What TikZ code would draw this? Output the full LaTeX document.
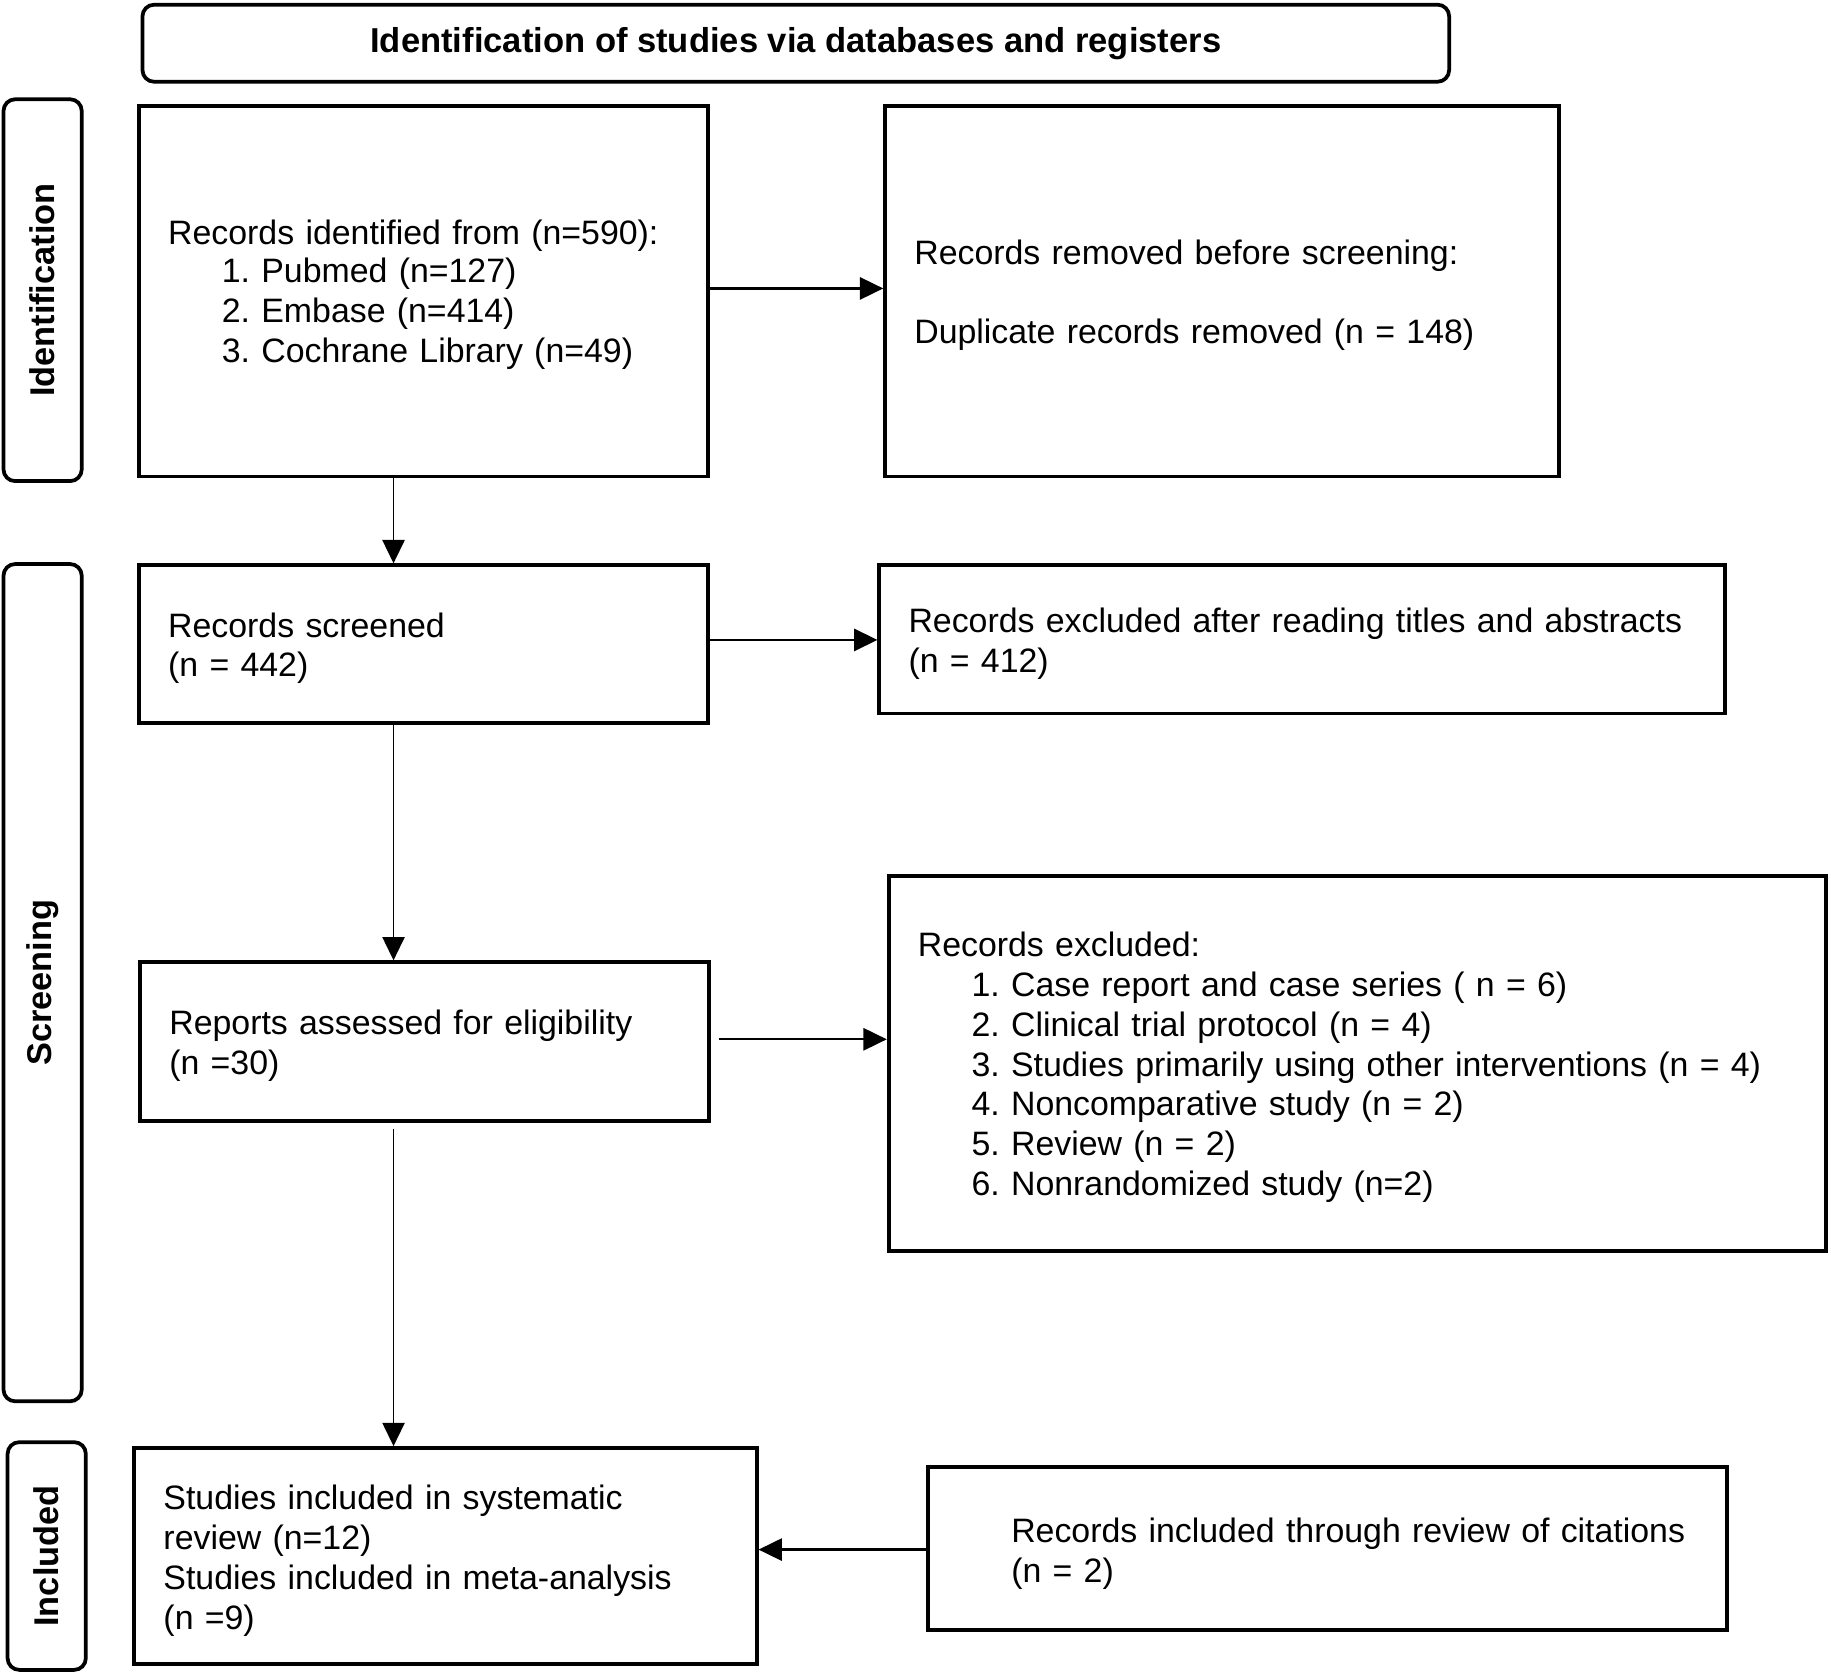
\documentclass[tikz,border=0pt]{standalone}
\usepackage{fontspec}
\setmainfont{Liberation Sans}
\frenchspacing
\usetikzlibrary{arrows.meta}
\begin{document}
\begin{tikzpicture}[x=0.5pt,y=-0.5pt,
  txt/.style={font=\fontsize{14.5pt}{17pt}\selectfont\frenchspacing},
  frame/.style={draw, line width=1.6pt, inner sep=0pt},
  btext/.style={txt, align=left, inner sep=0pt},
  side/.style={draw, line width=1.6pt, rounded corners=5pt, rotate=90, minimum height=33.5pt, inner sep=0pt, font=\fontsize{14.7pt}{17pt}\selectfont\bfseries},
  harrow/.style={line width=1pt, -{Triangle[length=10pt,width=9.5pt]}},
  varrow/.style={line width=0.8pt, -{Triangle[length=10pt,width=9.5pt]}}
]
\useasboundingbox (0,0) rectangle (1568,1436);
\node (title) [draw, line width=1.6pt, rounded corners=5pt, minimum width=559.5pt, minimum height=33pt, inner sep=0pt, font=\fontsize{14.8pt}{17pt}\selectfont\bfseries] at (681.5,37) {Identification of studies via databases and registers};

\node (sid) [side, minimum width=163.5pt] at (36.5,248.5) {Identification};
\node (sscr) [side, minimum width=358.5pt] at (36.5,841.5) {Screening};
\node (sinc) [side, minimum width=97.5pt] at (40,1332.5) {Included};

% frames
\node (a) [frame, minimum width=243.5pt, minimum height=158.5pt] at (362.5,249.5) {};
\node (b) [frame, minimum width=288.5pt, minimum height=158.5pt] at (1046.5,249.5) {};
\node (c) [frame, minimum width=243.5pt, minimum height=67.5pt] at (362.5,551.5) {};
\node (d) [frame, minimum width=362pt, minimum height=63.5pt] at (1115,547.5) {};
\node (e) [frame, minimum width=243.5pt, minimum height=68pt] at (363.5,892) {};
\node (f) [frame, minimum width=401.5pt, minimum height=160.5pt] at (1162.5,910.5) {};
\node (g) [frame, minimum width=266.5pt, minimum height=92.5pt] at (381.5,1332.5) {};
\node (h) [frame, minimum width=342pt, minimum height=70pt] at (1137,1326) {};

% texts
\node (at) [btext, text width=218.5pt] at ([yshift=-1.5pt]a.center) {Records identified from (n=590):\\[-0.75pt]\hspace*{23pt}1. Pubmed (n=127)\\\hspace*{23pt}2. Embase (n=414)\\\hspace*{23pt}3. Cochrane Library (n=49)};
\node (bt) [btext, text width=263.5pt] at ([yshift=-1.75pt]b.center) {Records removed before screening:\\[17pt]Duplicate records removed (n = 148)};
\node (ct) [btext, text width=218.5pt] at ([yshift=-1.75pt]c.center) {Records screened\\(n = 442)};
\node (dt) [btext, text width=337pt] at ([yshift=-1.75pt]d.center) {Records excluded after reading titles and abstracts\\(n = 412)};
\node (et) [btext, text width=218.5pt] at ([yshift=-1.75pt]e.center) {Reports assessed for eligibility\\(n =30)};
\node (ft) [btext, text width=376.5pt] at ([yshift=-1.75pt]f.center) {Records excluded:\\\hspace*{23pt}1. Case report and case series ( n = 6)\\\hspace*{23pt}2. Clinical trial protocol (n = 4)\\\hspace*{23pt}3. Studies primarily using other interventions (n = 4)\\\hspace*{23pt}4. Noncomparative study (n = 2)\\\hspace*{23pt}5. Review (n = 2)\\\hspace*{23pt}6. Nonrandomized study (n=2)};
\node (gt) [btext, text width=241.5pt] at ([yshift=-2pt]g.center) {Studies included in systematic\\review (n=12)\\Studies included in meta-analysis\\(n =9)};
\node (ht) [btext, text width=317pt] at ([yshift=-2.25pt]h.center) {\hspace*{23pt}Records included through review of citations\\\hspace*{23pt}(n = 2)};

\coordinate (spine) at (337,0);
\draw[harrow] (a.east |- 0,247) -- (b.west |- 0,247);
\draw[harrow] (c.east |- 0,548) -- (d.west |- 0,548);
\draw[harrow] ([xshift=3.5pt]e.east |- 0,890) -- (f.west |- 0,890);
\draw[harrow] (h.west |- 0,1327) -- (g.east |- 0,1327);
\draw[varrow] (a.south -| spine) -- (c.north -| spine);
\draw[varrow] (c.south -| spine) -- (e.north -| spine);
\draw[varrow] ([yshift=-2.5pt]e.south -| spine) -- (g.north -| spine);
\end{tikzpicture}
\end{document}
